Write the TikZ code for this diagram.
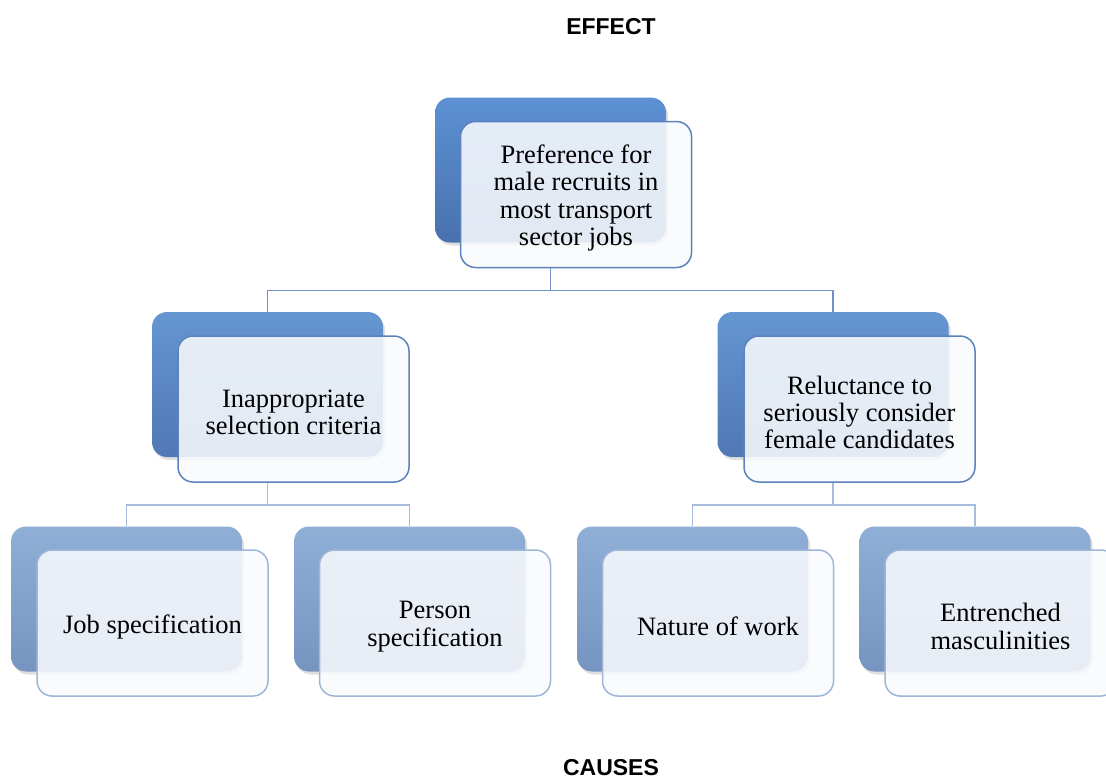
\documentclass[tikz,border=0pt]{standalone}
\usepackage{fontspec}
\setmainfont{Liberation Serif}
\newfontfamily\headfont{Liberation Sans}
\usetikzlibrary{shadows}
\definecolor{bAtop}{RGB}{93,145,212}
\definecolor{bAbot}{RGB}{72,113,174}
\definecolor{bBtop}{RGB}{100,150,210}
\definecolor{bBbot}{RGB}{80,120,180}
\definecolor{bCtop}{RGB}{143,175,215}
\definecolor{bCbot}{RGB}{118,148,192}
\definecolor{edgeA}{RGB}{92,130,190}
\definecolor{edgeC}{RGB}{158,182,216}
\definecolor{connA}{RGB}{110,145,200}
\definecolor{connC}{RGB}{165,188,220}
\definecolor{frontfill}{RGB}{248,250,253}
\tikzset{
  backbox/.style={rounded corners=15pt, minimum width=231pt, minimum height=145pt,
    drop shadow={opacity=0.25, shadow xshift=2pt, shadow yshift=-3pt}},
  backA/.style={backbox, top color=bAtop, bottom color=bAbot},
  backB/.style={backbox, top color=bBtop, bottom color=bBbot},
  backC/.style={backbox, top color=bCtop, bottom color=bCbot},
  frontbox/.style={rounded corners=15pt, minimum width=231pt, minimum height=146pt,
    fill=frontfill, fill opacity=0.88, line width=1.5pt},
  frontA/.style={frontbox, draw=edgeA},
  frontC/.style={frontbox, draw=edgeC},
  txt/.style={align=center, yshift=-3.5pt, font=\fontsize{26.5}{27.4}\selectfont},
  connA/.style={draw=connA, line width=1.5pt},
  connC/.style={draw=connC, line width=1.5pt},
  head/.style={font=\headfont\bfseries\fontsize{23}{27}\selectfont}
}
\begin{document}
\begin{tikzpicture}[x=1pt,y=-1pt]
\path[use as bounding box, clip] (0,0) rectangle (1106,780);
\node[head] (effect) at (611,27) {EFFECT};
\node[head] (causes) at (611,768) {CAUSES};
% coordinates of boxes (back) and (front)
\path (550.5,170) coordinate (p0) (576,194.5) coordinate (q0)
      (267.5,384.5) coordinate (p1) (293.5,409) coordinate (q1)
      (833,384.5) coordinate (p2) (859.5,409) coordinate (q2)
      (126.5,599) coordinate (p3) (152.5,623) coordinate (q3)
      (409.5,599) coordinate (p4) (435,623) coordinate (q4)
      (692.5,599) coordinate (p5) (718,623) coordinate (q5)
      (975,599) coordinate (p6) (1000.5,623) coordinate (q6);
% level 1
\node[backA] (b0) at (p0) {};
\node[frontA] (f0) at (q0) {};
\node[txt] (t0) at (q0) {Preference for\\male recruits in\\most transport\\sector jobs};
% level 2
\node[backB] (b1) at (p1) {};
\node[frontA] (f1) at (q1) {};
\node[txt] (t1) at (q1) {Inappropriate\\selection criteria};
\node[backB] (b2) at (p2) {};
\node[frontA] (f2) at (q2) {};
\node[txt] (t2) at (q2) {Reluctance to\\seriously consider\\female candidates};
% level 3
\node[backC] (b3) at (p3) {};
\node[frontC] (f3) at (q3) {};
\node[txt] (t3) at (q3) {Job specification};
\node[backC] (b4) at (p4) {};
\node[frontC] (f4) at (q4) {};
\node[txt] (t4) at (q4) {Person\\specification};
\node[backC] (b5) at (p5) {};
\node[frontC] (f5) at (q5) {};
\node[txt] (t5) at (q5) {Nature of work};
\node[backC] (b6) at (p6) {};
\node[frontC] (f6) at (q6) {};
\node[txt] (t6) at (q6) {Entrenched\\masculinities};
% connectors
\draw[connA] (b0.center |- f0.south) -- ++(0,22) coordinate (j0) -| (b1.north);
\draw[connA] (j0) -| (b2.north);
\draw[connC] (b1.center |- f1.south) -- ++(0,22) coordinate (j1) -| (b3.north);
\draw[connC] (j1) -| (b4.north);
\draw[connC] (b2.center |- f2.south) -- ++(0,22) coordinate (j2) -| (b5.north);
\draw[connC] (j2) -| (b6.north);
\end{tikzpicture}
\end{document}
